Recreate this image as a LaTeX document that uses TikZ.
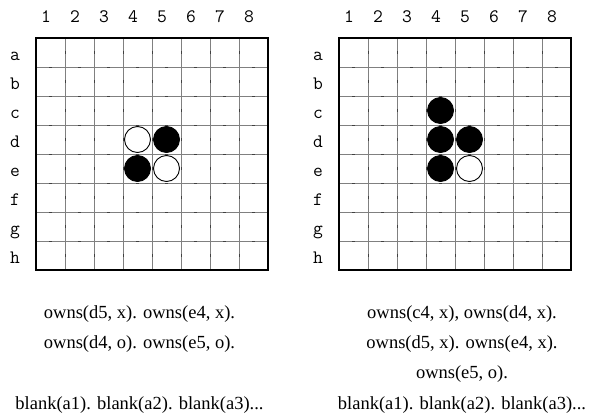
\documentclass[tikz,border=0pt]{standalone}
\usepackage{fontspec}
\setmainfont{Liberation Serif}
\tikzset{
  gridline/.style={color=gray, line width=0.9pt},
  gridtick/.style={color=black!75, line width=0.9pt},
  boardframe/.style={line width=2.4pt, line join=miter},
  blackstone/.style={circle, fill=black, draw=black, line width=0.9pt, minimum size=26pt, inner sep=0pt},
  whitestone/.style={circle, fill=white, draw=black, line width=0.9pt, minimum size=26pt, inner sep=0pt},
  coordlabel/.style={font=\ttfamily\fontsize{19}{19}\selectfont, anchor=base, inner sep=0pt},
  factline/.style={font=\fontsize{18.5}{20}\selectfont, anchor=base, inner sep=0pt}
}

\begin{document}
\begin{tikzpicture}[x=1pt,y=-1pt]
    \useasboundingbox (0,0) rectangle (589,415);
    % the two boards, left (L) and right (R)
    \foreach \b/\dx in {L/0,R/303} {
    \begin{scope}[xshift=\dx pt]
    \foreach \i in {1,...,7} {
        \draw [gridline] (36+29*\i,38) -- (36+29*\i,270);
        \draw [gridline] (36,38+29*\i) -- (268,38+29*\i);
    }
    \foreach \i in {0,...,8} {
        \foreach \j in {1,...,8} {
            \draw [gridtick] (36+29*\i,38+29*\j-16) -- (36+29*\i,38+29*\j-13);
            \draw [gridtick] (36+29*\j-16,38+29*\i) -- (36+29*\j-13,38+29*\i);
        }
    }
    \draw [boardframe] (36,38) rectangle (268,270);
    \foreach \i in {1,...,8}
        \node[coordlabel] (\b-col\i) at (36+29*\i-19,23) {\i};
    \foreach \r [count=\j] in {a,b,c,d,e,f,g,h}
        \node[coordlabel] (\b-row\r) at (15,31+29*\j) {\r};
    \end{scope}
    }
    % stones on the left board
    \node[whitestone] (L-d4) at (137.5,139.5) {};
    \node[blackstone] (L-d5) at (166.5,139.5) {};
    \node[blackstone] (L-e4) at (137.5,168.5) {};
    \node[whitestone] (L-e5) at (166.5,168.5) {};
    % stones on the right board
    \node[blackstone] (R-c4) at (440.5,110.5) {};
    \node[blackstone] (R-d4) at (440.5,139.5) {};
    \node[blackstone] (R-d5) at (469.5,139.5) {};
    \node[blackstone] (R-e4) at (440.5,168.5) {};
    \node[whitestone] (R-e5) at (469.5,168.5) {};
    % facts under the boards
    \node[factline] (L-fact1) at (139.5,318) {owns(d5, x). owns(e4, x).};
    \node[factline] (L-fact2) at (139.5,348) {owns(d4, o). owns(e5, o).};
    \node[factline] (L-blank) at (139.5,409) {blank(a1). blank(a2). blank(a3)...};
    \node[factline] (R-fact1) at (462,318) {owns(c4, x), owns(d4, x).};
    \node[factline] (R-fact2) at (462,348) {owns(d5, x). owns(e4, x).};
    \node[factline] (R-fact3) at (462,378) {owns(e5, o).};
    \node[factline] (R-blank) at (462,409) {blank(a1). blank(a2). blank(a3)...};
\end{tikzpicture}
\end{document}
